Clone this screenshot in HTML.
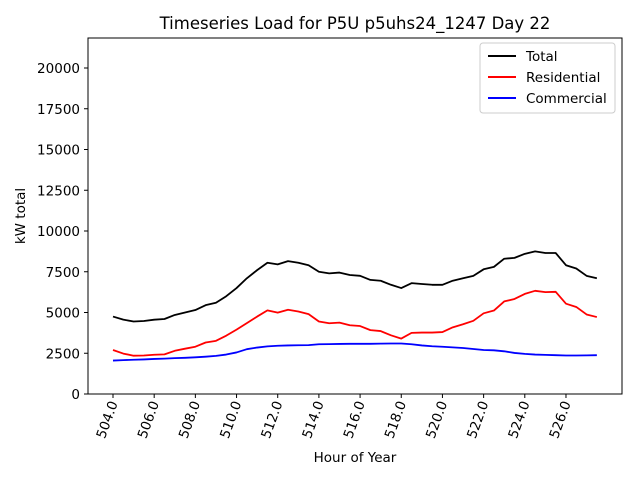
<!DOCTYPE html>
<html><head><meta charset="utf-8"><style>
body{margin:0;background:#fff;}
svg{font-family:"DejaVu Sans","Liberation Sans",sans-serif;}
</style></head><body>
<svg id="chart" width="640" height="480" xmlns="http://www.w3.org/2000/svg">
<rect width="640" height="480" fill="#fff"/>
<text x="355" y="29" font-size="16.5" text-anchor="middle">Timeseries Load for P5U p5uhs24_1247  Day 22</text>
<g id="plot"></g>
<rect x="88" y="38" width="534" height="356" fill="none" stroke="#000" stroke-width="1"/>
<text x="355" y="462" font-size="13.5" text-anchor="middle">Hour of Year</text>
<text transform="translate(25,216) rotate(-90)" font-size="13.5" text-anchor="middle">kW total</text>
<g>
<rect x="480" y="43" width="135" height="70" fill="#fff" stroke="#ccc" rx="3"/>
<line x1="488" y1="56" x2="516" y2="56" stroke="#000" stroke-width="2"/>
<text x="526" y="61" font-size="13.5">Total</text>
<line x1="488" y1="77" x2="516" y2="77" stroke="#f00" stroke-width="2"/>
<text x="526" y="82" font-size="13.5">Residential</text>
<line x1="488" y1="98" x2="516" y2="98" stroke="#00f" stroke-width="2"/>
<text x="526" y="103" font-size="13.5">Commercial</text>
</g>
</svg>
<script>
const hours=[];for(let i=0;i<48;i++)hours.push(504+i*0.5);
const total=[4750,4560,4450,4480,4560,4600,4850,5000,5150,5450,5600,6000,6500,7100,7600,8050,7950,8150,8050,7900,7500,7400,7450,7300,7250,7000,6950,6700,6500,6800,6750,6700,6700,6950,7100,7250,7650,7800,8300,8350,8600,8750,8650,8650,7900,7700,7250,7100];
const residential=[2700,2480,2350,2360,2410,2430,2650,2780,2900,3160,3260,3580,3950,4350,4750,5130,4990,5170,5060,4900,4450,4340,4380,4220,4170,3920,3860,3600,3400,3750,3770,3770,3800,4090,4280,4490,4950,5120,5680,5830,6140,6330,6250,6270,5540,5340,4880,4720];
const commercial=[2050,2080,2100,2120,2150,2170,2200,2220,2250,2290,2340,2420,2550,2750,2850,2920,2960,2980,2990,3000,3050,3060,3070,3080,3080,3080,3090,3100,3100,3050,2980,2930,2900,2860,2820,2760,2700,2680,2620,2520,2460,2420,2400,2380,2360,2360,2370,2380];
const yTicks=[0,2500,5000,7500,10000,12500,15000,17500,20000];
const xTicks=[504,506,508,510,512,514,516,518,520,522,524,526];
const NS="http://www.w3.org/2000/svg";
const g=document.getElementById('plot');
function xs(h){return 113+(h-504)*20.59;}
function ys(v){return 394-v*0.0163;}
function mk(t,a){const e=document.createElementNS(NS,t);for(const k in a)e.setAttribute(k,a[k]);g.appendChild(e);return e;}
yTicks.forEach(v=>{
  const l=mk('line',{x1:84,x2:88,y1:ys(v),y2:ys(v),stroke:'#000'});
  
  
  const t=mk('text',{x:80,y:ys(v)+5,'font-size':13.5,'text-anchor':'end'});
  t.textContent=v;
  
  
});
xTicks.forEach(h=>{
  const x=xs(h);
  const l=mk('line',{x1:x,x2:x,y1:394,y2:398,stroke:'#000'});
  
  
  const t=mk('text',{transform:`translate(${x+5},${403}) rotate(-70)`,'font-size':13.5,'text-anchor':'end'});
  t.textContent=h.toFixed(1);
  
  
});
function line(arr,color,name){
  const p=mk('polyline',{points:arr.map((v,i)=>xs(hours[i])+','+ys(v)).join(' '),fill:'none',stroke:color,'stroke-width':1.8,'stroke-linejoin':'round'});
  
  
}
line(total,'#000','total-line');
line(residential,'#f00','residential-line');
line(commercial,'#00f','commercial-line');
</script>
</body></html>
